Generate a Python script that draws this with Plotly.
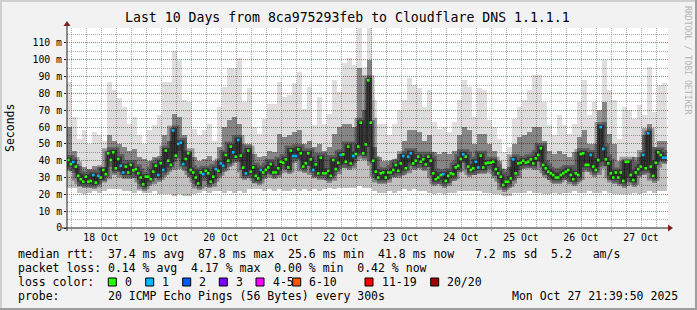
import plotly.graph_objects as go
import pandas as pd

# ---------------- data ----------------
start = pd.Timestamp("2025-10-17 22:24:00")

# hourly median rtt (ms), 240 hours
median_ms = [
    40.4, 38.0, 39.2, 36.5, 31.0, 29.0, 27.5, 30.5, 27.5, 28.0,
    31.5, 27.0, 31.0, 30.0, 34.5, 32.0, 44.4, 40.4, 45.0, 35.5,
    41.0, 37.0, 33.0, 36.5, 33.0, 37.5, 34.3, 35.0, 32.5, 30.0,
    26.0, 30.5, 30.5, 29.0, 33.5, 37.0, 31.5, 38.5, 34.5, 46.0,
    40.0, 37.5, 58.0, 43.0, 50.0, 50.7, 38.0, 41.0, 44.4, 34.5,
    33.0, 30.0, 26.5, 33.0, 32.0, 34.0, 32.5, 27.5, 30.5, 35.0,
    34.0, 38.4, 37.0, 43.4, 40.0, 48.4, 45.0, 42.4, 52.3, 43.0,
    35.9, 32.5, 46.0, 33.5, 36.0, 31.0, 29.5, 34.5, 33.0, 34.5,
    36.0, 38.0, 33.0, 33.0, 35.5, 39.4, 38.8, 40.8, 36.0, 46.0,
    42.8, 42.8, 46.8, 44.4, 36.5, 38.5, 44.4, 40.8, 34.5, 37.8,
    32.5, 41.8, 32.5, 32.5, 34.0, 31.0, 40.4, 35.0, 38.8, 43.4,
    43.8, 39.4, 48.4, 38.4, 42.8, 44.0, 48.4, 62.6, 44.4, 49.7,
    87.8, 62.6, 40.0, 33.5, 30.0, 32.5, 33.0, 30.0, 33.0, 33.0,
    34.5, 37.5, 34.0, 38.4, 42.8, 35.5, 42.4, 44.4, 38.4, 40.0,
    42.4, 39.4, 40.8, 37.8, 42.4, 40.0, 32.5, 29.0, 30.0, 31.5,
    32.0, 28.0, 31.0, 32.5, 32.0, 36.0, 37.0, 41.0, 43.8, 42.4,
    36.5, 34.5, 35.5, 39.4, 36.0, 43.0, 36.0, 38.4, 38.8, 38.8,
    39.4, 35.0, 32.5, 30.5, 25.6, 27.5, 27.5, 29.5, 40.8, 32.5,
    38.4, 38.8, 40.0, 38.8, 39.4, 40.8, 38.4, 41.4, 43.4, 47.4,
    37.5, 35.5, 33.5, 32.5, 31.5, 30.0, 30.0, 31.5, 32.5, 33.5,
    34.5, 31.5, 29.0, 32.5, 31.5, 44.0, 44.4, 37.5, 37.5, 43.4,
    36.5, 34.5, 40.4, 60.0, 47.0, 40.8, 38.4, 32.5, 30.0, 33.0,
    30.0, 33.0, 28.0, 39.4, 39.4, 31.5, 28.5, 33.0, 35.0, 36.5,
    43.4, 35.5, 56.3, 36.5, 31.0, 38.8, 45.0, 43.4, 41.8, 41.8,
]

# lost pings (of 20) per hour
lost_pings = [
    0,0,1,0,0,0,0,0,0,0, 1,0,1,0,0,0,0,0,0,0,
    0,1,1,0,0,0,0,0,0,0, 0,0,0,0,0,0,1,0,1,0,
    0,0,1,0,1,1,1,0,0,0, 0,0,0,0,1,0,0,0,0,1,
    0,1,1,0,0,0,1,0,1,0, 0,1,0,0,0,0,0,1,0,0,
    0,0,0,0,0,0,0,0,0,0, 1,1,0,0,0,0,0,0,1,0,
    0,0,0,0,0,0,0,0,0,1, 0,0,0,0,1,0,0,0,0,0,
    0,0,0,0,0,0,0,0,0,0, 0,0,0,0,1,0,1,1,0,0,
    0,0,0,0,0,0,0,0,0,0, 1,0,0,0,0,0,0,0,1,0,
    0,0,0,1,1,0,0,0,0,0, 0,0,0,0,0,0,0,0,1,0,
    0,0,0,0,0,0,0,0,0,0, 0,0,0,0,0,0,0,0,0,0,
    0,0,0,0,0,0,0,0,0,1, 0,0,0,1,1,0,0,0,0,0,
    0,0,0,0,0,0,0,0,0,0, 1,0,1,0,0,0,0,0,1,1,
]

# smoke (2-hour bins, 120 bins): min, lower dark edge, upper medium edge, max (ms)
smoke_max = [
    87, 66, 53, 58, 50, 57, 55, 52, 87, 82,
    77, 72, 62, 66, 55, 50, 58, 61, 67, 87,
    87, 105, 100, 76, 75, 59, 55, 58, 62, 52,
    72, 84, 95, 95, 101, 75, 83, 60, 56, 65,
    74, 74, 87, 78, 79, 86, 93, 71, 84, 61,
    78, 62, 68, 88, 81, 98, 101, 97, 119, 96,
    119, 76, 62, 62, 55, 62, 70, 76, 89, 85,
    83, 72, 82, 63, 59, 60, 57, 63, 76, 88,
    84, 66, 83, 82, 64, 60, 53, 45, 48, 65,
    72, 76, 82, 91, 91, 75, 61, 55, 67, 61,
    56, 62, 75, 88, 67, 75, 62, 100, 82, 76,
    53, 72, 70, 65, 73, 67, 96, 69, 85, 86,
]
smoke_q3 = [
    60, 46, 37, 36, 35, 37, 36, 36, 55, 52,
    50, 48, 46, 47, 42, 41, 40, 42, 43, 55,
    52, 68, 66, 55, 45, 42, 40, 41, 43, 40,
    48, 60, 64, 66, 62, 50, 50, 44, 42, 43,
    46, 45, 56, 54, 55, 57, 58, 50, 52, 48,
    50, 46, 48, 56, 60, 62, 62, 60, 95, 70,
    100, 48, 42, 40, 40, 41, 44, 52, 58, 58,
    57, 52, 55, 45, 44, 45, 44, 46, 55, 60,
    58, 50, 56, 56, 50, 46, 40, 35, 36, 50,
    54, 55, 57, 60, 60, 52, 46, 44, 46, 44,
    42, 45, 54, 58, 50, 50, 70, 75, 56, 50,
    40, 40, 40, 42, 42, 55, 62, 48, 52, 52,
]
smoke_q1 = [
    34, 32.5, 25, 23.5, 23.5, 23, 26, 28, 36, 31.5,
    33, 29, 29, 30, 26, 22, 25, 29.5, 27.5, 30.5,
    33.5, 39, 46, 34, 30.5, 26, 22.5, 28, 23.5, 26.5,
    30, 33, 36, 38.4, 39, 28.5, 29.5, 27, 25.5, 29,
    32, 29, 31.5, 34.8, 32, 38.8, 40.4, 32.5, 36.8, 30.5,
    28.5, 28.5, 27, 31, 34.8, 35.4, 34.4, 38.8, 44.4, 40.4,
    40, 29.5, 26, 26, 29, 30.5, 30, 31.5, 38.4, 34.4,
    35.4, 33.8, 36, 25, 26, 24, 27, 28, 33, 38.4,
    30.5, 31.5, 32, 32, 34.8, 31, 26.5, 21.6, 23.5, 28.5,
    34.4, 34.8, 35.4, 34.4, 39.4, 31.5, 28.5, 26, 26, 28.5,
    27.5, 25, 27.5, 33.5, 33.5, 30.5, 36.4, 36.8, 28.5, 26,
    26, 24, 27.5, 24.5, 31, 31.5, 32.5, 27, 39.4, 37.8,
]
smoke_min = [
    24, 24, 21, 20, 21, 22, 21, 22, 23, 23,
    23, 22, 22, 21, 22, 21, 21, 22, 20, 20,
    20, 19, 20, 19, 19, 20, 21, 22, 21, 22,
    22, 21, 22, 21, 22, 21, 23, 23, 23, 22,
    23, 22, 23, 22, 22, 23, 22, 23, 22, 23,
    22, 23, 24, 23, 24, 24, 24, 24, 25, 24,
    24, 22, 21, 21, 22, 21, 22, 23, 22, 23,
    22, 22, 21, 20, 21, 20, 21, 21, 22, 22,
    22, 22, 22, 21, 21, 20, 20, 19, 19, 21,
    21, 21, 22, 21, 21, 20, 20, 21, 20, 21,
    21, 22, 21, 21, 22, 21, 21, 22, 21, 20,
    20, 20, 20, 21, 20, 21, 22, 21, 22, 22,
]

y_ticks = [0, 10, 20, 30, 40, 50, 60, 70, 80, 90, 100, 110]
y_ticktext = ["0"] + [f"{v} m" for v in y_ticks[1:]]

loss_labels = ["0", "1", "2", "3", "4-5", "6-10", "11-19", "20/20"]
loss_colors = ["#26ff00", "#00b8ff", "#0059ff", "#7e00ff", "#ff00ff", "#ff5500", "#ff0000", "#a10000"]
loss_upper = [0, 1, 2, 3, 5, 10, 19, 20]

title = "Last 10 Days from 8ca975293feb to Cloudflare DNS 1.1.1.1"
rtt_stats = ["37.4", "87.8", "25.6", "41.8", "7.2", "5.2"]
loss_stats = ["0.14", "4.17", "0.00", "0.42"]
probe_text = "20 ICMP Echo Pings (56 Bytes) every 300s"
stamp = "Mon Oct 27 21:39:50 2025"

# ---------------- layout geometry ----------------
W, H = 697, 310
L, R, T, B = 67, 29, 28, 82
PW, PH = W - L - R, H - T - B
def px(x):
    return (x - L) / PW
def py(y):
    return (H - B - y) / PH

MONO = "DejaVu Sans Mono"
HOUR = pd.Timedelta(hours=1)
n_h = len(median_ms)
hour_start = [start + i * HOUR for i in range(n_h)]
hour_mid = [start + (i + 0.5) * HOUR for i in range(n_h)]
bin_mid = [start + (2 * k + 1) * HOUR for k in range(len(smoke_max))]
BIN_W = 2 * 3600 * 1000

def loss_color(n):
    for lim, c in zip(loss_upper, loss_colors):
        if n <= lim:
            return c
    return loss_colors[-1]

fig = go.Figure()
def smoke_layer(lo, hi, alpha):
    fig.add_trace(go.Bar(
        x=bin_mid, base=lo, y=[h - l for h, l in zip(hi, lo)], width=BIN_W,
        marker=dict(color=f"rgba(0,0,0,{alpha})", line=dict(width=0)),
        hoverinfo="skip", showlegend=False))

smoke_layer(smoke_min, smoke_max, 0.13)   # outer, lightest
smoke_layer(smoke_min, smoke_q3, 0.13)    # lower / middle body
smoke_layer(smoke_q1, smoke_q3, 0.30)     # inner body

# dense core around the median
step_x = hour_start + [start + n_h * HOUR]
step_y = median_ms + [median_ms[-1]]
fig.add_trace(go.Scatter(x=step_x, y=step_y, mode="lines",
                         line=dict(shape="hv", width=10, color="rgba(0,0,0,0.30)"),
                         hoverinfo="skip", showlegend=False))
fig.add_trace(go.Scatter(x=step_x, y=step_y, mode="lines",
                         line=dict(shape="hv", width=5, color="rgba(0,0,0,0.40)"),
                         hoverinfo="skip", showlegend=False))
fig.add_trace(go.Scatter(x=step_x, y=step_y, mode="lines",
                         line=dict(shape="hv", width=1, color="#1f1f1f"),
                         hoverinfo="skip", showlegend=False))
fig.add_trace(go.Scatter(x=hour_mid, y=median_ms, mode="markers",
                         marker=dict(symbol="square", size=2.6,
                                     color=[loss_color(n) for n in lost_pings],
                                     line=dict(width=0)),
                         hoverinfo="skip", showlegend=False))

GRID = "rgba(143,143,143,0.75)"
MGRID = "rgba(222,79,79,0.6)"
fig.update_layout(
    width=W, height=H, margin=dict(l=L, r=R, t=T, b=B, pad=0),
    paper_bgcolor="#f2f2f2", plot_bgcolor="#ffffff",
    barmode="overlay", bargap=0,
    font=dict(family=MONO, color="#000000"),
    xaxis=dict(type="date", range=[start, start + 240.4 * HOUR],
               dtick=86400000, tick0="2025-10-18", ticklabelmode="period",
               tickformat="%d %b", tickfont=dict(family=MONO, size=9.8, color="#000"),
               ticks="outside", ticklen=2, tickcolor=MGRID, tickwidth=1,
               ticklabelstandoff=-2,
               showgrid=True, gridcolor=MGRID, griddash="1px,1px", gridwidth=1,
               minor=dict(dtick=6 * 3600 * 1000, tick0="2025-10-18", showgrid=True,
                          gridcolor=GRID, griddash="1px,1px", gridwidth=1),
               showline=False, zeroline=False, fixedrange=True),
    yaxis=dict(range=[0, 118.9], tickvals=y_ticks, ticktext=y_ticktext,
               tickfont=dict(family=MONO, size=9.8, color="#000"),
               ticks="outside", ticklen=2, tickcolor="#1f1f1f",
               showgrid=True, gridcolor=MGRID, griddash="1px,1px", gridwidth=1,
               minor=dict(dtick=5, tick0=0, showgrid=True, gridcolor=GRID,
                          griddash="1px,1px", gridwidth=1),
               showline=False, zeroline=False, fixedrange=True),
)

shapes = []
# 3D frame
shapes.append(dict(type="rect", xref="paper", yref="paper", x0=px(0), x1=px(W), y0=py(0), y1=py(2),
                   fillcolor="#cfcfcf", line=dict(width=0), layer="above"))
shapes.append(dict(type="rect", xref="paper", yref="paper", x0=px(0), x1=px(2), y0=py(0), y1=py(H),
                   fillcolor="#cfcfcf", line=dict(width=0), layer="above"))
shapes.append(dict(type="rect", xref="paper", yref="paper", x0=px(W - 2), x1=px(W), y0=py(0), y1=py(H),
                   fillcolor="#9e9e9e", line=dict(width=0), layer="above"))
shapes.append(dict(type="rect", xref="paper", yref="paper", x0=px(0), x1=px(W), y0=py(H - 2), y1=py(H),
                   fillcolor="#9e9e9e", line=dict(width=0), layer="above"))
# axis lines + arrows
shapes.append(dict(type="line", xref="paper", yref="paper", x0=px(62), x1=px(669), y0=0, y1=0,
                   line=dict(color="#1f1f1f", width=1), layer="above"))
shapes.append(dict(type="line", xref="paper", yref="paper", x0=0, x1=0, y0=py(231), y1=py(24),
                   line=dict(color="#1f1f1f", width=1), layer="above"))
shapes.append(dict(type="path", xref="paper", yref="paper",
                   path=f"M {px(63.5)} {py(26)} L {px(70.5)} {py(26)} L {px(67)} {py(21)} Z",
                   fillcolor="#801f1f", line=dict(width=0), layer="above"))
shapes.append(dict(type="path", xref="paper", yref="paper",
                   path=f"M {px(668)} {py(224.5)} L {px(668)} {py(231.5)} L {px(673)} {py(228)} Z",
                   fillcolor="#801f1f", line=dict(width=0), layer="above"))

NB = "\u00a0"
def sp(s):
    return s.replace(" ", NB)

ann = []
ann.append(dict(text=title, x=px(347), y=py(18), xref="paper", yref="paper",
                xanchor="center", yanchor="middle", showarrow=False,
                font=dict(family=MONO, size=13.2, color="#000")))
ann.append(dict(text="Seconds", x=px(10), y=py(128), xref="paper", yref="paper",
                xanchor="center", yanchor="middle", textangle=-90, showarrow=False,
                font=dict(family=MONO, size=11.5, color="#000")))
ann.append(dict(text="RRDTOOL / TOBI OETIKER", x=px(688), y=py(60), xref="paper", yref="paper",
                xanchor="center", yanchor="middle", textangle=90, showarrow=False,
                font=dict(family=MONO, size=8.2, color="#b4b4b4")))
row1 = (f"median rtt:  {rtt_stats[0]} ms avg  {rtt_stats[1]} ms max  {rtt_stats[2]} ms min  "
        f"{rtt_stats[3]} ms now   {rtt_stats[4]} ms sd  {rtt_stats[5]}   am/s")
row2 = (f"packet loss: {loss_stats[0]} % avg  {loss_stats[1]} % max  {loss_stats[2]} % min  "
        f"{loss_stats[3]} % now")
row4 = f"probe:       {probe_text}"
for txt, yy in [(row1, 254), (row2, 268), ("loss color:", 282), (row4, 296)]:
    ann.append(dict(text=sp(txt), x=px(16), y=py(yy), xref="paper", yref="paper",
                    xanchor="left", yanchor="middle", showarrow=False,
                    font=dict(family=MONO, size=11.5, color="#000")))
ann.append(dict(text=sp(stamp), x=px(680), y=py(296), xref="paper", yref="paper",
                xanchor="right", yanchor="middle", showarrow=False,
                font=dict(family=MONO, size=11.5, color="#000")))
box_x = [108.3, 145.7, 182.7, 219.3, 256, 292.7, 365, 430.7]
for lab, col, bx in zip(loss_labels, loss_colors, box_x):
    shapes.append(dict(type="rect", xref="paper", yref="paper", x0=px(bx), x1=px(bx + 8),
                       y0=py(286), y1=py(278), fillcolor=col,
                       line=dict(color="#000", width=1), layer="above"))
    ann.append(dict(text=lab, x=px(bx + 14.5), y=py(282), xref="paper", yref="paper",
                    xanchor="left", yanchor="middle", showarrow=False,
                    font=dict(family=MONO, size=11.5, color="#000")))

fig.update_layout(shapes=shapes, annotations=ann)
fig.write_html("out.html")
